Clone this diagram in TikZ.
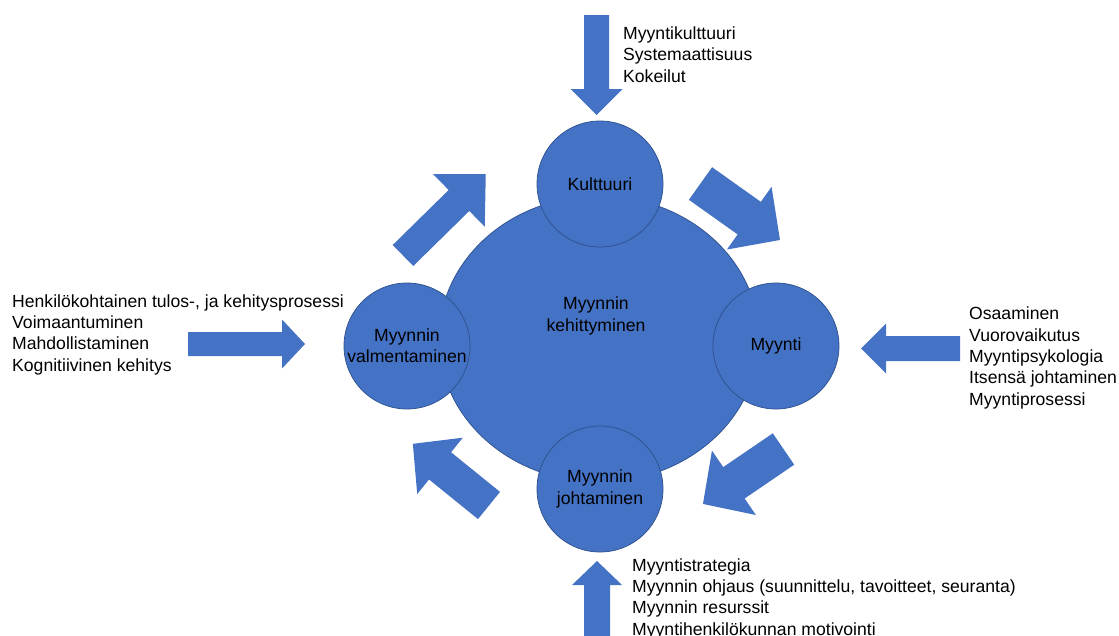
\documentclass[tikz,border=0pt]{standalone}
\usepackage{fontspec}
\setmainfont{Liberation Sans}
\usetikzlibrary{shapes.geometric}
\definecolor{pptblue}{RGB}{68,114,196}
\definecolor{pptline}{RGB}{47,82,143}
\tikzset{
  disc/.style={circle,draw=pptline,line width=0.75pt,fill=pptblue,minimum size=126pt,inner sep=0pt,align=center},
  core/.style={ellipse,draw=pptline,line width=0.75pt,fill=pptblue,minimum width=320pt,minimum height=286pt,inner sep=0pt},
  lst/.style={align=left,anchor=base west,inner sep=0pt},
  blk/.style={fill=pptblue}
}
% block arrow: tail x, tail y, angle, length, shaft width, head width, head length
\newcommand{\blockarrow}[7]{%
  \fill[blk,shift={(#1,#2)},rotate=#3] (0,-#5/2) -- (#4-#7,-#5/2) -- (#4-#7,-#6/2) -- (#4,0)
    -- (#4-#7,#6/2) -- (#4-#7,#5/2) -- (0,#5/2) -- cycle;}

\begin{document}
\begin{tikzpicture}[x=1pt,y=-1pt,every node/.style={font=\fontsize{17.6}{21.3}\selectfont}]
  \useasboundingbox (0,0) rectangle (1119,635);
  % centre and the four parts
  \node[core] (kehitys) at (599,339) {};
  \node[align=center,inner sep=0pt] (kehtxt) at (596,316) {Myynnin\\kehittyminen};
  \node[disc] (kult) at (600,184) {Kulttuuri};
  \node[disc] (myynti) at (776,346) {Myynti};
  \node[disc] (johto) at (600,489) {Myynnin\\johtaminen};
  \node[disc] (valm) at (407,346) {Myynnin\\valmentaminen};
  % cycle arrows
  \blockarrow{403}{255.5}{44.5}{116}{29.4}{73.6}{37.5}
  \blockarrow{700.5}{183.5}{-35.4}{97.5}{40}{77}{37.7}
  \blockarrow{783.5}{449}{214.3}{97.5}{38}{78}{37.5}
  \blockarrow{489}{505.5}{141}{98}{35}{72.5}{35}
  % input arrows
  \blockarrow{596.5}{15}{-90}{100}{25}{52}{26}
  \blockarrow{960}{348.5}{180}{99}{25}{50}{25}
  \blockarrow{597}{640}{90}{79}{26}{50}{24}
  \blockarrow{188}{344}{0}{117}{24}{49}{23}
  % input lists (anchored at the last baseline)
  \node[lst] (kulttxt) at (623,82) {Myyntikulttuuri\\Systemaattisuus\\Kokeilut};
  \node[lst] (myytxt) at (969,405) {Osaaminen\\Vuorovaikutus\\Myyntipsykologia\\Itsensä johtaminen\\Myyntiprosessi};
  \node[lst] (johtxt) at (632,635) {Myyntistrategia\\Myynnin ohjaus (suunnittelu, tavoitteet, seuranta)\\Myynnin resurssit\\Myyntihenkilökunnan motivointi};
  \node[lst] (valtxt) at (12,371) {Henkilökohtainen tulos-, ja kehitysprosessi\\Voimaantuminen\\Mahdollistaminen\\Kognitiivinen kehitys};
\end{tikzpicture}
\end{document}
